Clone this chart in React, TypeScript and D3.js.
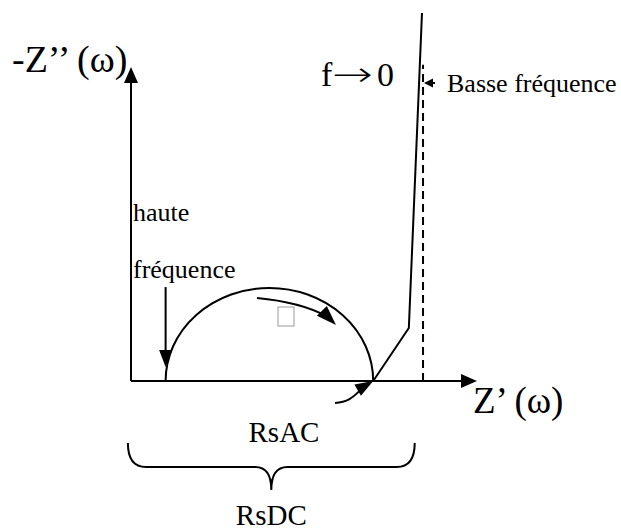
import { useEffect, useRef } from 'react';
import * as d3 from 'd3';

const W = 621;
const H = 531;
const FONT = "'Liberation Serif', 'Times New Roman', serif";

// Nyquist schematic values (Z' and -Z'' in arbitrary units)
const arcRe = [1, 7]; // high-frequency intercept, RsAC intercept
const warburgRe = [7, 8.03, 8.41];
const warburgIm = [0, 1.71, 11.87];
const lowFreqRe = 8.44; // asymptote f -> 0
const lowFreqTop = 10.2;
const hfArrowRe = 1;
const hfArrowIm = [3.03, 0.45];
const braceRe = [-0.09, 8.2];
const axisMax = { re: 10, im: 10.13 };

const x = d3.scaleLinear().domain([0, 10]).range([131, 477]);
const y = d3.scaleLinear().domain([0, 10]).range([381, 71]);

function head(tx: number, ty: number, angle: number, len: number, wid: number) {
  const c = Math.cos(angle), s = Math.sin(angle);
  const bx = tx - c * len, by = ty - s * len;
  const px = -s * wid / 2, py = c * wid / 2;
  return `${tx},${ty} ${bx + px},${by + py} ${bx - px},${by - py}`;
}

export default function App() {
  const arrowRef = useRef<SVGTextElement>(null);

  useEffect(() => {
    // stretch the "→" glyph to the long arrow of the original
    const el = arrowRef.current;
    if (!el) return;
    const bb = el.getBBox();
    const target = 41;
    const sx = bb.width > 0 ? target / bb.width : 1;
    d3.select(el).attr('transform', `translate(${332 - bb.x * sx},0) scale(${sx},1)`);
  }, []);

  const x0 = x(arcRe[0]), x1 = x(arcRe[1]);
  const rx = (x1 - x0) / 2;
  const ry = y(0) - y((arcRe[1] - arcRe[0]) / 2);
  const arcPath = `M${x0},${y(0)} A${rx},${ry} 0 0 1 ${x1},${y(0)}`;

  const warburg = d3.line<number>()
    .x(d => x(warburgRe[d]))
    .y(d => y(warburgIm[d]))(warburgRe.map((_, i) => i)) as string;

  // curved arrow inside the arc
  const inner = d3.path();
  inner.moveTo(257, 298);
  inner.quadraticCurveTo(300, 302, 326, 316);

  // curved arrow pointing to RsAC intercept
  const low = d3.path();
  low.moveTo(335, 403);
  low.bezierCurveTo(352, 402, 356, 393, 364, 387);

  const bl = x(braceRe[0]), br = x(braceRe[1]), bm = (bl + br) / 2;
  const bt = 443, bmid = 467, btip = 490;
  const brace = `M${bl},${bt} Q${bl},${bmid} ${bl + 18},${bmid} L${bm - 16},${bmid} Q${bm},${bmid} ${bm},${btip} Q${bm},${bmid} ${bm + 16},${bmid} L${br - 18},${bmid} Q${br},${bmid} ${br},${bt}`;

  return (
    <svg width={W} height={H} style={{ position: 'absolute', left: 0, top: 0, background: '#fff' }}>
      <g stroke="#000" strokeWidth={2} fill="none">
        {/* axes */}
        <line x1={x(0)} y1={y(0)} x2={x(axisMax.re) - 12} y2={y(0)} />
        <line x1={x(0)} y1={y(0)} x2={x(0)} y2={y(axisMax.im) + 12} />
        {/* semicircle */}
        <path d={arcPath} />
        {/* diffusion branch */}
        <path d={warburg} />
        {/* low-frequency asymptote */}
        <line x1={x(lowFreqRe)} y1={y(0)} x2={x(lowFreqRe)} y2={y(lowFreqTop)} strokeDasharray="8,5" />
        {/* high-frequency arrow */}
        <line x1={x(hfArrowRe)} y1={y(hfArrowIm[0])} x2={x(hfArrowRe)} y2={y(hfArrowIm[1]) - 12} />
        <path d={inner.toString()} />
        <path d={low.toString()} />
        <line x1={x(lowFreqRe) + 12} y1={83} x2={x(lowFreqRe) + 6} y2={83} />
        <path d={brace} />
      </g>
      <g fill="#000">
        <polygon points={head(x(axisMax.re), y(0), 0, 16, 14)} />
        <polygon points={head(x(0), y(axisMax.im), -Math.PI / 2, 16, 14)} />
        <polygon points={head(x(hfArrowRe), y(hfArrowIm[1]), Math.PI / 2, 17, 13)} />
        <polygon points={head(336, 325, Math.atan2(12, 12), 20, 14)} />
        <polygon points={head(x(arcRe[1]), y(0), Math.atan2(-7, 12), 18, 13)} />
        <polygon points={head(x(lowFreqRe) + 1, 83, Math.PI, 9, 9)} />
      </g>
      <rect x={278} y={307} width={16} height={19} fill="#fff" stroke="#999" strokeWidth={1} />
      <g fontFamily={FONT} fill="#000">
        <text x={12} y={72} fontSize={38}>-Z’’ (ω)</text>
        <text x={321} y={86} fontSize={34}>f</text>
        <text ref={arrowRef} x={0} y={86} fontSize={34} fontFamily="'DejaVu Sans'" fontWeight={200}>→</text>
        <text x={377} y={86} fontSize={34}>0</text>
        <text x={447} y={92} fontSize={26}>Basse fréquence</text>
        <text x={133} y={221} fontSize={26}>haute</text>
        <text x={133} y={278} fontSize={26}>fréquence</text>
        <text x={473} y={413} fontSize={37}>Z’ (ω)</text>
        <text x={284} y={442} fontSize={29} textAnchor="middle">RsAC</text>
        <text x={bm} y={525} fontSize={29} textAnchor="middle">RsDC</text>
      </g>
    </svg>
  );
}
